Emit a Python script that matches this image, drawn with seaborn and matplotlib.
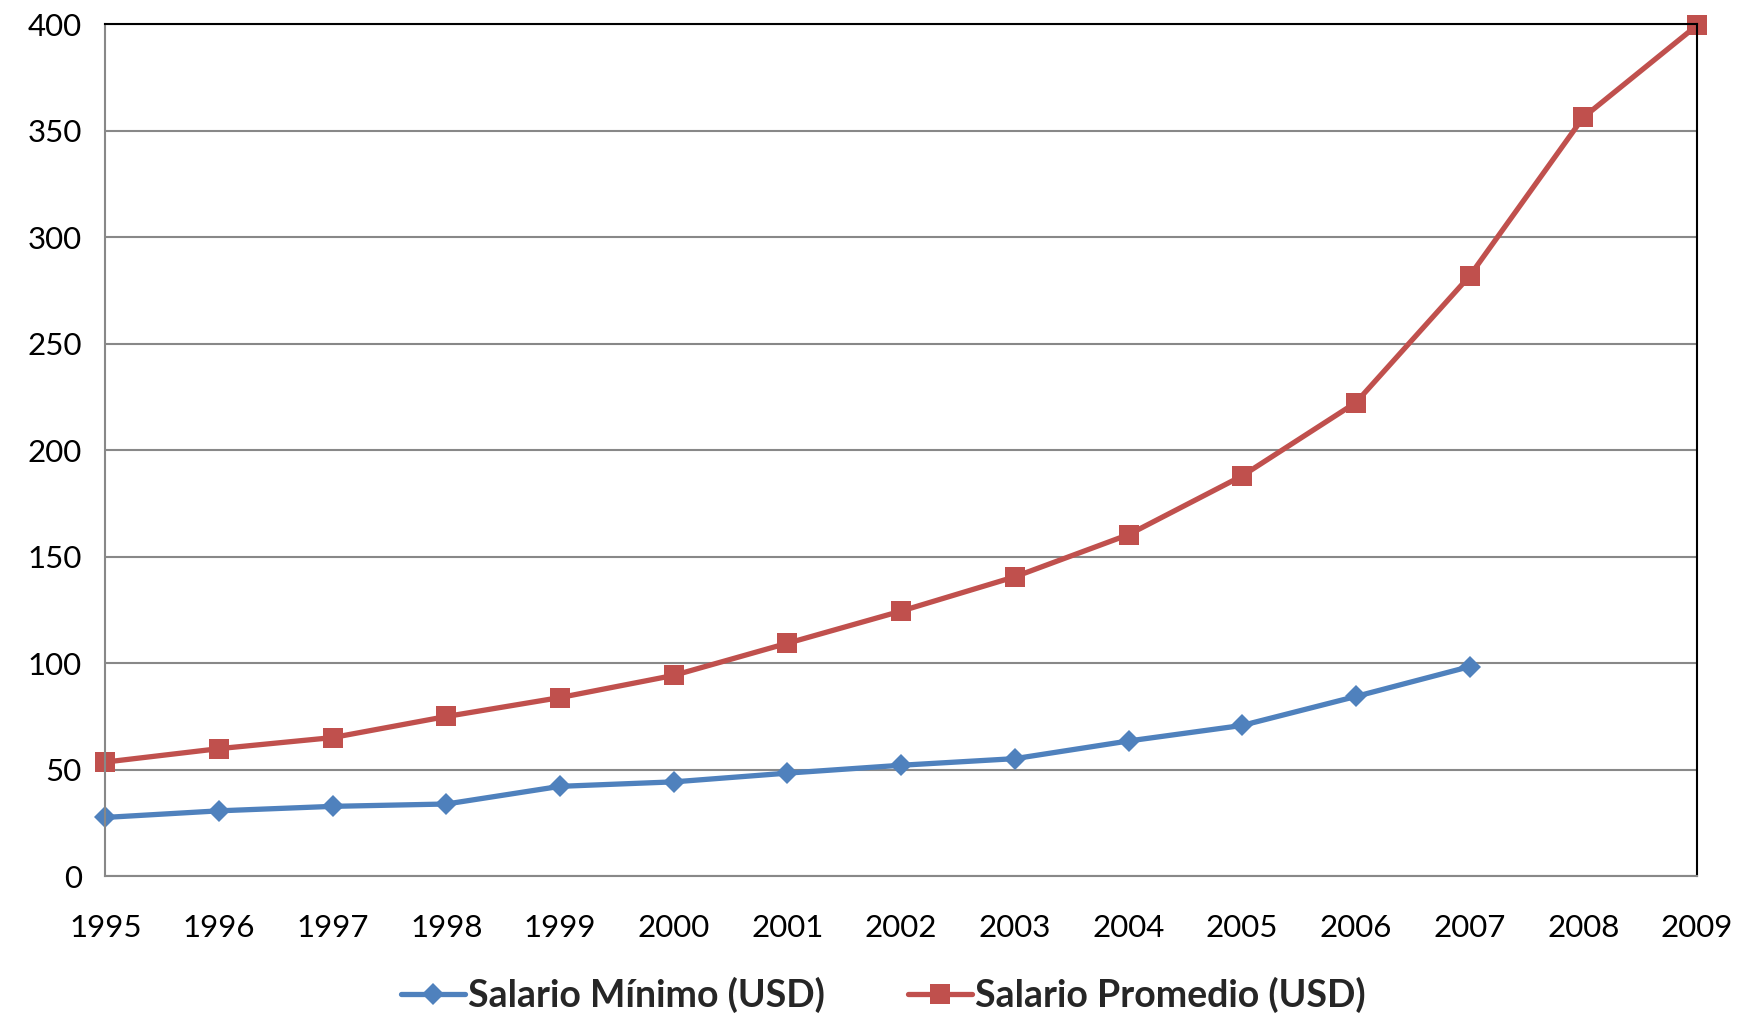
import numpy as np
import pandas as pd
import matplotlib
matplotlib.use("Agg")
import matplotlib.pyplot as plt
import seaborn as sns

# Datos
anios = list(range(1995, 2010))
salario_minimo = [27.6, 30.7, 32.8, 33.9, 42.2, 44.3, 48.4, 52.1, 55.2, 63.5, 70.8, 84.4, 98.4]
salario_promedio = [53.6, 59.9, 65.1, 75.0, 83.9, 94.3, 109.4, 124.5, 140.6, 160.4,
                    188.0, 222.4, 281.8, 356.3, 399.5]

sns.set_style("white")
plt.rcParams['font.family'] = ['Lato', 'DejaVu Sans']

azul = "#4F81BD"
rojo = "#C0504D"
gris = "#888888"

fig = plt.figure(figsize=(17.39, 10.16), dpi=100)
ax = fig.add_axes([0.0606, 0.1376, 0.9152, 0.8384])

ax.yaxis.grid(True, color=gris, linewidth=1.5)
ax.set_axisbelow(True)

sns.lineplot(x=anios[:len(salario_minimo)], y=salario_minimo, ax=ax, color=azul,
             linewidth=3.8, marker="D", markersize=11.5, markeredgewidth=0,
             label="Salario Mínimo (USD)", clip_on=False)
sns.lineplot(x=anios, y=salario_promedio, ax=ax, color=rojo,
             linewidth=3.8, marker="s", markersize=15, markeredgewidth=0,
             label="Salario Promedio (USD)", clip_on=False)

ax.set_xlim(1995, 2009)
ax.set_ylim(0, 400)
ax.set_xticks(anios)
ax.set_yticks(np.arange(0, 401, 50))
ax.set_yticks(np.arange(25, 400, 50), minor=True)
ax.tick_params(axis="both", which="both", direction="inout", color=gris, width=1.5,
               labelsize=22.5, labelcolor="black")
ax.tick_params(axis="y", which="both", length=18, pad=8)
ax.tick_params(axis="x", length=18, pad=18)

for lado in ["left", "bottom"]:
    ax.spines[lado].set_color(gris)
    ax.spines[lado].set_linewidth(1.5)
for lado in ["top", "right"]:
    ax.spines[lado].set_color("black")
    ax.spines[lado].set_linewidth(1.5)

ax.set_xlabel("")
ax.set_ylabel("")
handles, labels = ax.get_legend_handles_labels()
ax.get_legend().remove()
fig.legend(handles, labels, loc="center", bbox_to_anchor=(0.508, 0.021), ncol=2,
           frameon=False, prop={"size": 27, "weight": "bold"}, handlelength=1.7,
           handletextpad=0.1, columnspacing=2.2, borderpad=0)

fig.savefig("out.png", dpi=100)
